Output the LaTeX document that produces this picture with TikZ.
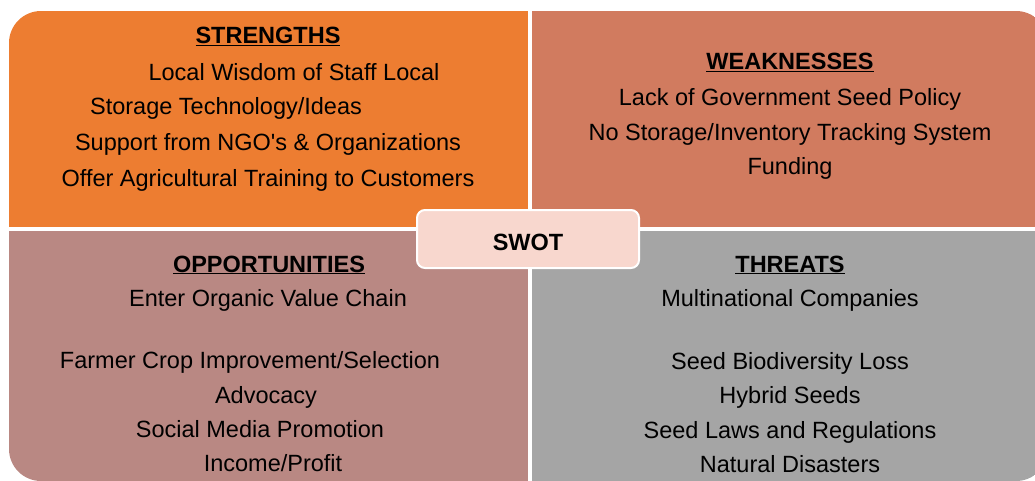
\documentclass[tikz,border=0pt]{standalone}
\usepackage{fontspec}
\setmainfont{Liberation Sans}
\usepackage{xcolor}
\definecolor{StrengthOrange}{HTML}{ED7D31}
\definecolor{WeakTerra}{HTML}{D17B5F}
\definecolor{OppMauve}{HTML}{B98883}
\definecolor{ThreatGrey}{HTML}{A5A5A5}
\definecolor{SwotPink}{HTML}{F8D7CE}
\usepackage{tikz}

\begin{document}
\begin{tikzpicture}[x=1pt, y=-1pt,
  item/.style={anchor=base, inner sep=0pt, font=\fontsize{23.5}{28}\selectfont},
  head/.style={anchor=base, inner sep=0pt, font=\fontsize{23.5}{28}\selectfont\bfseries},
  swotbox/.style={rectangle, rounded corners=8pt, draw=white, line width=2pt, fill=SwotPink,
                  minimum width=222pt, minimum height=58pt, text height=22pt, text depth=0pt,
                  font=\fontsize{23.5}{28}\selectfont\bfseries}
]
\useasboundingbox (0,0) rectangle (1035,481);

%% ---- Quadrant panels (outer corners rounded) ----
\begin{scope}
  \clip[rounded corners=32pt] (9,11) rectangle (1048,481);
  \fill[StrengthOrange] (9,11)   rectangle (528,227);
  \fill[WeakTerra]      (532,11) rectangle (1048,227);
  \fill[OppMauve]       (9,231)  rectangle (528,481);
  \fill[ThreatGrey]     (532,231) rectangle (1048,481);
\end{scope}

%% ---- Strengths ----
\node[head] (strhead) at (268,44)  {\underline{STRENGTHS}};
\node[item] (str1)    at (294,81)  {Local Wisdom of Staff Local};
\node[item] (str2)    at (226,115) {Storage Technology/Ideas};
\node[item] (str3)    at (268,151) {Support from NGO\textquotesingle s \& Organizations};
\node[item] (str4)    at (268,186) {Offer Agricultural Training to Customers};

%% ---- Weaknesses ----
\node[head] (weakhead) at (790,70)  {\underline{WEAKNESSES}};
\node[item] (weak1)    at (790,106) {Lack of Government Seed Policy};
\node[item] (weak2)    at (790,141) {No Storage/Inventory Tracking System};
\node[item] (weak3)    at (790,175) {Funding};

%% ---- Opportunities ----
\node[head] (opphead) at (269,272) {\underline{OPPORTUNITIES}};
\node[item] (opp1)    at (268,306) {Enter Organic Value Chain};
\node[item] (opp2)    at (250,368) {Farmer Crop Improvement/Selection};
\node[item] (opp3)    at (266,403) {Advocacy};
\node[item] (opp4)    at (260,437) {Social Media Promotion};
\node[item] (opp5)    at (273,471) {Income/Profit};

%% ---- Threats ----
\node[head] (thrhead) at (790,272) {\underline{THREATS}};
\node[item] (thr1)    at (790,306) {Multinational Companies};
\node[item] (thr2)    at (790,369) {Seed Biodiversity Loss};
\node[item] (thr3)    at (790,403) {Hybrid Seeds};
\node[item] (thr4)    at (790,438) {Seed Laws and Regulations};
\node[item] (thr5)    at (790,472) {Natural Disasters};

%% ---- Centre label ----
\node[swotbox] (swot) at (528,239) {SWOT};

\end{tikzpicture}
\end{document}
